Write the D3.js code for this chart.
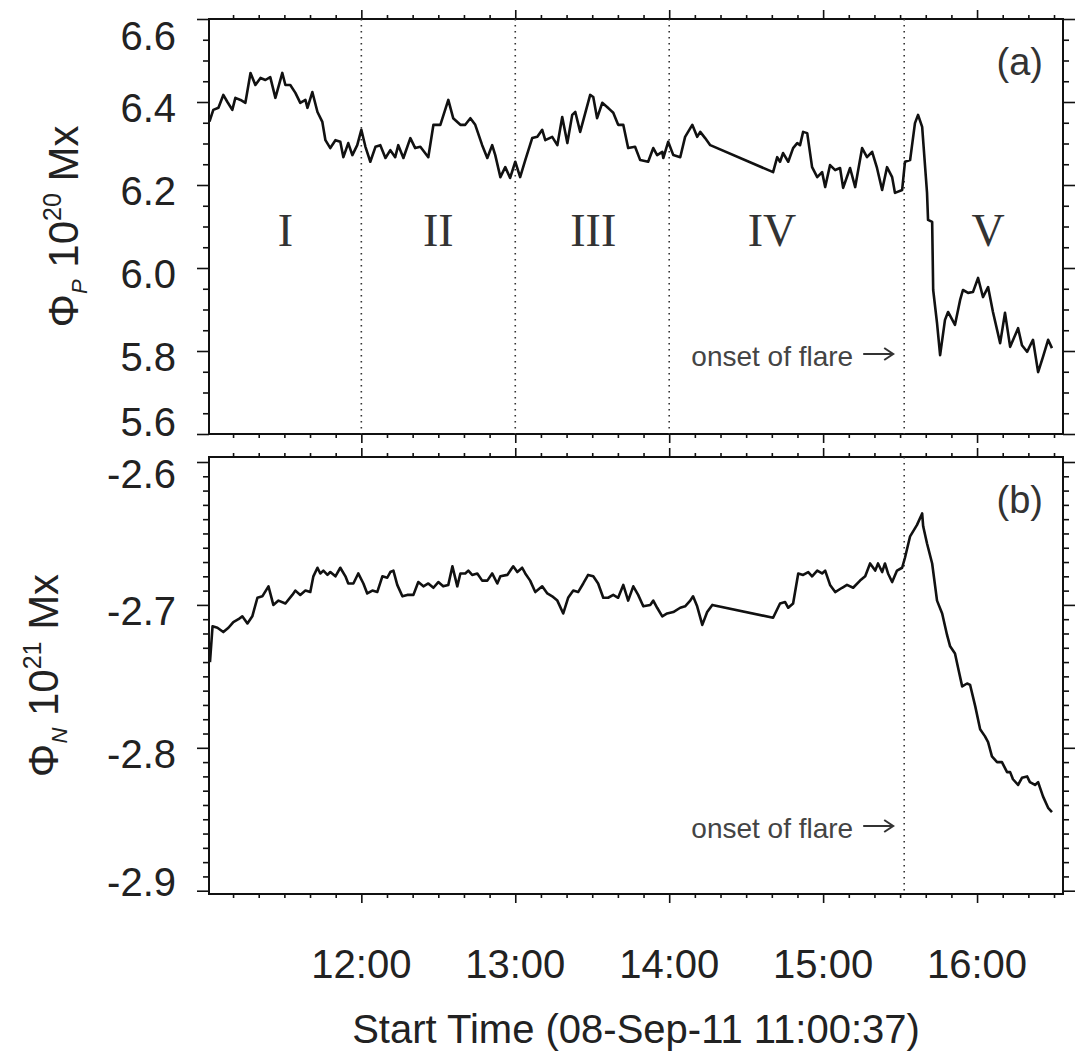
<!DOCTYPE html>
<html>
<head>
<meta charset="utf-8">
<script src="https://cdn.jsdelivr.net/npm/d3@7"></script>
<style>
  html, body { margin: 0; padding: 0; background: #fff; }
  svg text { font-family: "Liberation Sans", Arial, sans-serif; fill: #222; }
</style>
</head>
<body>
<div id="chart"></div>
<script>
// time in minutes after 11:00 UT, 08-Sep-2011
const tStart = 0.62;   // 11:00:37
const tEnd = 333.5;
const flareOnset = 271.6;
const regionBounds = [60, 120, 180];          // 12:00, 13:00, 14:00
const regionLabels = ['I', 'II', 'III', 'IV', 'V'];
const regionLabelTimes = [30.4, 90, 150.4, 220.1, 304.3];
const hourTicks = [60, 120, 180, 240, 300];
const hourLabels = ['12:00', '13:00', '14:00', '15:00', '16:00'];

// (a) positive flux, 10^20 Mx
const phiPTime = [0.8, 2.3, 4.3, 6.2, 7.8, 9.7, 10.9, 12.9, 14.8, 16.8,
  18.7, 20.7, 22.6, 24.5, 26.5, 29.2, 30.4, 32.3, 34.3, 36.2,
  38.2, 39.0, 40.9, 42.9, 44.8, 46.0, 47.9, 49.9, 51.8, 53.0,
  54.9, 56.5, 58.4, 60.0, 61.6, 63.5, 65.5, 67.4, 69.4, 71.3,
  73.2, 74.4, 76.4, 79.1, 81.0, 83.0, 86.1, 88.1, 90.8, 93.9,
  95.8, 98.6, 100.5, 102.5, 104.4, 107.1, 109.1, 111.0, 112.2, 114.2,
  116.1, 118.0, 120.0, 121.9, 123.9, 126.6, 128.6, 130.5, 131.7, 134.4,
  136.4, 138.3, 140.3, 142.2, 143.4, 145.3, 147.3, 149.2, 150.4, 151.9,
  153.9, 155.8, 157.0, 158.2, 160.1, 162.1, 164.0, 166.7, 168.7, 171.8,
  173.8, 175.3, 177.3, 177.7, 179.6, 181.6, 184.3, 186.2, 189.0, 190.9,
  192.1, 194.0, 196.0, 220.5, 222.1, 223.2, 224.4, 226.4, 228.3, 229.9,
  231.0, 232.2, 233.8, 235.7, 237.7, 239.6, 240.8, 242.7, 244.7, 246.6,
  247.8, 250.5, 252.5, 255.2, 257.1, 259.1, 261.0, 263.0, 264.9, 266.9,
  268.0, 270.8, 271.9, 273.9, 275.8, 277.0, 278.6, 280.5, 280.9, 282.5,
  282.9, 284.4, 285.6, 287.5, 288.7, 291.4, 293.4, 294.5, 296.5, 298.4,
  300.4, 302.3, 304.3, 306.2, 309.0, 310.9, 312.9, 316.0, 317.5, 319.5,
  321.8, 323.8, 325.7, 327.7, 329.2];
const phiPValue = [6.353, 6.381, 6.386, 6.417, 6.400, 6.381, 6.410, 6.405, 6.398, 6.470,
  6.441, 6.458, 6.453, 6.460, 6.410, 6.470, 6.441, 6.441, 6.422, 6.398,
  6.405, 6.386, 6.424, 6.376, 6.352, 6.308, 6.289, 6.308, 6.304, 6.267,
  6.301, 6.272, 6.296, 6.333, 6.292, 6.256, 6.292, 6.296, 6.265, 6.284,
  6.267, 6.296, 6.265, 6.313, 6.289, 6.292, 6.267, 6.345, 6.345, 6.405,
  6.361, 6.345, 6.345, 6.361, 6.345, 6.296, 6.265, 6.296, 6.272, 6.219,
  6.243, 6.217, 6.256, 6.219, 6.260, 6.313, 6.316, 6.333, 6.308, 6.316,
  6.296, 6.364, 6.301, 6.369, 6.376, 6.328, 6.374, 6.417, 6.412, 6.361,
  6.398, 6.388, 6.381, 6.374, 6.345, 6.345, 6.289, 6.292, 6.260, 6.256,
  6.289, 6.272, 6.280, 6.265, 6.304, 6.272, 6.267, 6.316, 6.345, 6.316,
  6.328, 6.313, 6.296, 6.231, 6.267, 6.256, 6.277, 6.256, 6.289, 6.301,
  6.296, 6.328, 6.325, 6.243, 6.219, 6.231, 6.195, 6.248, 6.236, 6.241,
  6.193, 6.241, 6.195, 6.289, 6.267, 6.280, 6.241, 6.188, 6.243, 6.219,
  6.181, 6.188, 6.256, 6.260, 6.349, 6.369, 6.340, 6.181, 6.116, 6.111,
  5.947, 5.867, 5.790, 5.875, 5.894, 5.863, 5.923, 5.947, 5.940, 5.942,
  5.976, 5.930, 5.954, 5.894, 5.819, 5.892, 5.810, 5.855, 5.814, 5.798,
  5.827, 5.749, 5.786, 5.827, 5.807];

// (b) negative flux, 10^21 Mx
const phiNTime = [1.0, 2.0, 3.9, 6.2, 8.2, 10.1, 12.1, 13.6, 15.6, 17.5,
  19.5, 21.4, 23.8, 25.7, 27.7, 30.4, 33.1, 34.3, 36.2, 38.2,
  40.1, 41.3, 42.9, 44.0, 45.2, 46.8, 47.9, 49.9, 51.8, 53.8,
  54.9, 56.9, 58.8, 60.8, 62.3, 64.3, 66.2, 68.2, 70.1, 71.3,
  72.5, 74.0, 76.0, 77.9, 80.3, 82.2, 84.2, 86.1, 88.1, 90.0,
  91.9, 93.9, 95.5, 97.4, 98.6, 100.5, 101.7, 103.2, 105.2, 107.1,
  109.1, 111.0, 113.0, 114.2, 116.9, 119.2, 120.8, 122.7, 123.9, 125.8,
  127.8, 130.5, 132.5, 134.4, 136.4, 138.7, 140.6, 142.6, 144.5, 146.5,
  148.4, 150.4, 152.3, 154.3, 156.2, 158.2, 160.1, 162.1, 164.0, 166.0,
  167.9, 169.9, 172.6, 173.8, 175.3, 177.3, 179.2, 181.6, 184.3, 186.2,
  188.2, 189.3, 190.9, 192.9, 194.8, 196.8, 220.5, 223.2, 225.2, 226.4,
  228.3, 230.3, 232.2, 234.2, 235.7, 237.7, 239.6, 240.8, 242.7, 244.7,
  247.4, 249.3, 251.7, 254.4, 256.4, 258.3, 260.3, 261.4, 263.0, 264.1,
  265.3, 266.9, 268.8, 270.8, 271.9, 273.9, 276.6, 278.6, 279.0, 280.5,
  282.5, 284.4, 286.4, 288.3, 289.5, 291.4, 292.6, 294.2, 296.1, 297.3,
  299.3, 301.2, 303.1, 304.3, 305.8, 307.8, 309.7, 311.7, 312.9, 314.0,
  316.0, 317.5, 319.5, 320.6, 322.6, 323.8, 325.7, 327.7, 329.2];
const phiNValue = [-2.740, -2.715, -2.716, -2.719, -2.716, -2.712, -2.710, -2.708, -2.713, -2.708,
  -2.695, -2.694, -2.687, -2.700, -2.697, -2.699, -2.693, -2.690, -2.693, -2.690,
  -2.691, -2.680, -2.674, -2.678, -2.676, -2.679, -2.677, -2.680, -2.674, -2.680,
  -2.685, -2.685, -2.678, -2.685, -2.692, -2.690, -2.691, -2.680, -2.681, -2.677,
  -2.676, -2.686, -2.694, -2.693, -2.693, -2.684, -2.687, -2.685, -2.688, -2.684,
  -2.687, -2.686, -2.673, -2.687, -2.678, -2.678, -2.676, -2.679, -2.678, -2.683,
  -2.683, -2.678, -2.685, -2.680, -2.679, -2.673, -2.677, -2.674, -2.678, -2.683,
  -2.691, -2.687, -2.692, -2.694, -2.697, -2.706, -2.695, -2.690, -2.691, -2.685,
  -2.679, -2.680, -2.685, -2.695, -2.695, -2.693, -2.695, -2.686, -2.697, -2.687,
  -2.693, -2.701, -2.700, -2.697, -2.702, -2.708, -2.706, -2.705, -2.702, -2.701,
  -2.697, -2.694, -2.701, -2.714, -2.705, -2.700, -2.709, -2.699, -2.698, -2.702,
  -2.699, -2.678, -2.679, -2.677, -2.680, -2.676, -2.678, -2.676, -2.686, -2.691,
  -2.688, -2.686, -2.688, -2.683, -2.680, -2.671, -2.676, -2.671, -2.677, -2.671,
  -2.678, -2.684, -2.676, -2.674, -2.667, -2.652, -2.644, -2.636, -2.645, -2.657,
  -2.671, -2.697, -2.706, -2.721, -2.729, -2.734, -2.744, -2.757, -2.755, -2.756,
  -2.771, -2.787, -2.792, -2.796, -2.806, -2.810, -2.810, -2.817, -2.817, -2.822,
  -2.826, -2.821, -2.820, -2.824, -2.826, -2.824, -2.834, -2.842, -2.845];

const yTicksA = [5.6, 5.8, 6.0, 6.2, 6.4, 6.6];
const yTicksB = [-2.9, -2.8, -2.7, -2.6];

// layout
const width = 1076, height = 1055;
const marginLeft = 209, marginRight = 1063;
const panels = [
  { top: 19, bottom: 434 },
  { top: 457, bottom: 894 }
];

const svg = d3.select('#chart').append('svg')
  .attr('width', width)
  .attr('height', height)
  .attr('viewBox', [0, 0, width, height]);

const x = d3.scaleLinear().domain([tStart, tEnd]).range([marginLeft, marginRight]);
const yA = d3.scaleLinear().domain([5.6, 6.6]).range([panels[0].bottom, panels[0].top]);
const yB = d3.scaleLinear().domain([-2.9023, -2.5965]).range([panels[1].bottom, panels[1].top]);

const minorX = d3.range(10, tEnd, 10).filter(t => t > tStart && t % 60 !== 0);
const minorYA = d3.range(5.65, 6.6, 0.05).map(v => +v.toFixed(2)).filter(v => !yTicksA.includes(v));
const minorYB = d3.range(-2.90, -2.595, 0.01).map(v => +v.toFixed(2)).filter(v => !yTicksB.includes(v));

// draws the tick marks on all four sides of a panel
function drawFrame(p, y, majorY, minorY) {
  const g = svg.append('g');
  const tickStyle = sel => sel.call(s => s.select('.domain').remove())
    .selectAll('line').attr('stroke', '#111').attr('stroke-width', 1.6);

  [[d3.axisBottom, p.bottom], [d3.axisTop, p.top]].forEach(([axis, yy]) => {
    g.append('g').attr('transform', `translate(0,${yy})`)
      .call(axis(x).tickValues(hourTicks).tickSize(9).tickFormat(''))
      .call(tickStyle);
    g.append('g').attr('transform', `translate(0,${yy})`)
      .call(axis(x).tickValues(minorX).tickSize(4).tickFormat(''))
      .call(tickStyle);
  });
  [[d3.axisLeft, marginLeft], [d3.axisRight, marginRight]].forEach(([axis, xx]) => {
    g.append('g').attr('transform', `translate(${xx},0)`)
      .call(axis(y).tickValues(majorY).tickSize(12).tickFormat(''))
      .call(tickStyle);
    g.append('g').attr('transform', `translate(${xx},0)`)
      .call(axis(y).tickValues(minorY).tickSize(6).tickFormat(''))
      .call(tickStyle);
  });

  g.append('rect')
    .attr('x', marginLeft).attr('y', p.top)
    .attr('width', marginRight - marginLeft).attr('height', p.bottom - p.top)
    .attr('fill', 'none').attr('stroke', '#111').attr('stroke-width', 2);

  // y tick labels, kept inside the panel height
  g.selectAll('text.ylab').data(majorY).join('text')
    .attr('class', 'ylab')
    .attr('x', 176)
    .attr('y', d => Math.min(Math.max(y(d) + 6, p.top + 17), p.bottom - 12) + 14)
    .attr('text-anchor', 'end')
    .style('font-size', '40px')
    .text(d => d.toFixed(1));
}

drawFrame(panels[0], yA, yTicksA, minorYA);
drawFrame(panels[1], yB, yTicksB, minorYB);

// dotted region boundaries
const dotted = (t, p) => svg.append('line')
  .attr('x1', x(t)).attr('x2', x(t))
  .attr('y1', p.top).attr('y2', p.bottom)
  .attr('stroke', '#333').attr('stroke-width', 1.6)
  .attr('stroke-dasharray', '1.6,4.4');
regionBounds.forEach(t => dotted(t, panels[0]));
dotted(flareOnset, panels[0]);
dotted(flareOnset, panels[1]);

// flux curves
const lineA = d3.line().x((d, i) => x(phiPTime[i])).y(d => yA(d));
const lineB = d3.line().x((d, i) => x(phiNTime[i])).y(d => yB(d));
svg.append('path').datum(phiPValue)
  .attr('d', lineA).attr('fill', 'none')
  .attr('stroke', '#111').attr('stroke-width', 2.6).attr('stroke-linejoin', 'round');
svg.append('path').datum(phiNValue)
  .attr('d', lineB).attr('fill', 'none')
  .attr('stroke', '#111').attr('stroke-width', 2.6).attr('stroke-linejoin', 'round');

// region numerals
svg.selectAll('text.region').data(regionLabels).join('text')
  .attr('class', 'region')
  .attr('x', (d, i) => x(regionLabelTimes[i]))
  .attr('y', 246)
  .attr('text-anchor', 'middle')
  .style('font-family', '"Liberation Serif", "Times New Roman", serif')
  .style('font-size', '46px')
  .style('fill', '#333')
  .text(d => d);

// panel letters
['(a)', '(b)'].forEach((s, i) => {
  svg.append('text')
    .attr('x', 1043).attr('y', panels[i].top + 56)
    .attr('text-anchor', 'end')
    .style('font-size', '38px').style('fill', '#333')
    .text(s);
});

// onset of flare annotation
[panels[0].bottom - 68, panels[1].bottom - 56].forEach(yy => {
  const xf = x(flareOnset);
  svg.append('text')
    .attr('x', xf - 51).attr('y', yy)
    .attr('text-anchor', 'end')
    .style('font-size', '28px').style('fill', '#444')
    .text('onset of flare');
  svg.append('path')
    .attr('d', `M${xf - 41},${yy - 12}H${xf - 11}M${xf - 20},${yy - 18}L${xf - 11},${yy - 12}L${xf - 20},${yy - 6}`)
    .attr('fill', 'none').attr('stroke', '#333').attr('stroke-width', 2);
});

// x tick labels and title
svg.selectAll('text.xlab').data(hourTicks).join('text')
  .attr('class', 'xlab')
  .attr('x', d => x(d)).attr('y', 978)
  .attr('text-anchor', 'middle')
  .style('font-size', '40px')
  .text((d, i) => hourLabels[i]);

svg.append('text')
  .attr('x', (marginLeft + marginRight) / 2).attr('y', 1043)
  .attr('text-anchor', 'middle')
  .style('font-size', '40px')
  .text('Start Time (08-Sep-11 11:00:37)');

// y titles with sub/superscripts
function yTitle(xBase, p, sub, sup) {
  const t = svg.append('text')
    .attr('transform', `translate(${xBase},${(p.top + p.bottom) / 2}) rotate(-90)`)
    .attr('text-anchor', 'middle')
    .style('font-size', '42px');
  t.append('tspan').text('Φ');
  t.append('tspan').attr('dy', 9).style('font-size', '22px').style('font-style', 'italic').text(sub);
  t.append('tspan').attr('dy', -9).text(' 10');
  t.append('tspan').attr('dy', -17).style('font-size', '25px').text(sup);
  t.append('tspan').attr('dy', 17).text(' Mx');
}
yTitle(78, panels[0], 'P', '20');
yTitle(58, panels[1], 'N', '21');
</script>
</body>
</html>
